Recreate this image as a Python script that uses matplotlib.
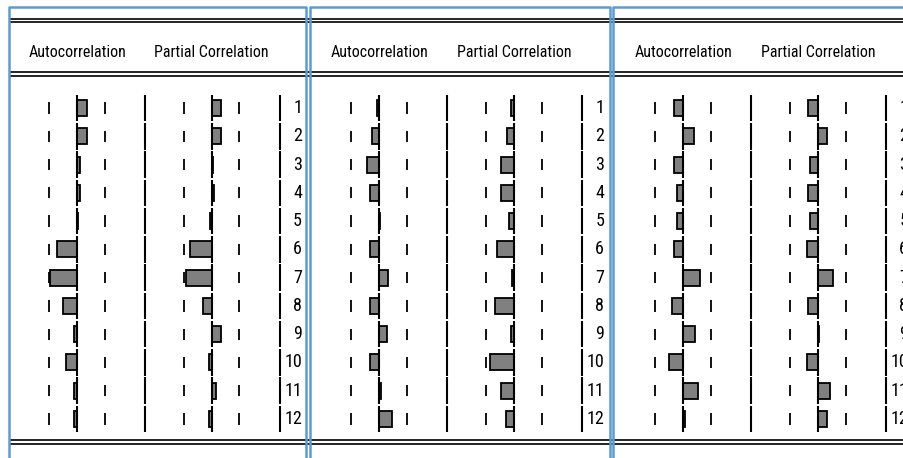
import matplotlib.pyplot as plt
import numpy as np

plt.rcParams['font.family'] = ['Liberation Sans Narrow', 'Roboto Condensed', 'DejaVu Sans']
plt.rcParams['font.stretch'] = 'condensed'

# correlogram values, lags 1..12
lags = np.arange(1, 13)
acf_1 = [0.14, 0.14, 0.05, 0.05, 0.02, -0.29, -0.40, -0.21, -0.04, -0.16, -0.04, -0.04]
pacf_1 = [0.14, 0.14, 0.025, 0.04, -0.025, -0.31, -0.38, -0.12, 0.14, -0.04, 0.07, -0.04]
acf_2 = [-0.04, -0.11, -0.18, -0.14, 0.01, -0.13, 0.13, -0.14, 0.11, -0.14, 0.025, 0.18]
pacf_2 = [-0.035, -0.10, -0.19, -0.19, -0.07, -0.24, -0.025, -0.27, -0.035, -0.35, -0.19, -0.12]
acf_3 = [-0.14, 0.15, -0.14, -0.09, -0.10, -0.14, 0.25, -0.17, 0.17, -0.21, 0.22, 0.03]
pacf_3 = [-0.15, 0.13, -0.11, -0.15, -0.11, -0.16, 0.23, -0.15, 0.02, -0.16, 0.18, 0.14]
bound = 0.41  # dashed confidence limits
headers = ["Autocorrelation", "Partial Correlation"]

panels = [(acf_1, pacf_1), (acf_2, pacf_2), (acf_3, pacf_3)]

W, H = 904, 458
fig = plt.figure(figsize=(W / 100, H / 100), dpi=100)
bg = fig.add_axes([0, 0, 1, 1])
bg.set_xlim(0, W)
bg.set_ylim(H, 0)
bg.axis('off')

# double rules across the table
for y in [19.3, 22.3, 72.2, 76.3, 440.3, 444]:
    bg.plot([10, W], [y, y], color='black', lw=1.2, solid_capstyle='butt')

# blue selection frames
for x0, x1 in [(9, 306), (310, 610), (613, 912)]:
    bg.plot([x0, x0, x1, x1], [470, 7, 7, 470], color='#5b9bd5', lw=1.8, zorder=5)

acf_zero = [77, 379.3, 683.3]
half = 68            # px per unit correlation
row_top, row_bot = 93.9, 433.1
n = len(lags)

for (acf, pacf), z in zip(panels, acf_zero):
    for k, vals in enumerate([acf, pacf]):
        cx = z + k * 134.5
        ax = fig.add_axes([(cx - half) / W, (H - row_bot) / H,
                           2 * half / W, (row_bot - row_top) / H])
        ax.set_xlim(-1, 1)
        ax.set_ylim(12.5, 0.5)
        ax.axis('off')
        ax.barh(lags, vals, height=0.57, color='#808080', edgecolor='black',
                linewidth=1.3, zorder=3)
        ax.vlines(np.zeros(n), lags - 0.47, lags + 0.47, color='black', lw=1.5, zorder=4)
        ax.vlines(np.ones(n), lags - 0.47, lags + 0.47, color='black', lw=1.5, clip_on=False)
        for b in [-bound, bound]:
            ax.vlines(np.full(n, b), lags - 0.2, lags + 0.2,
                      color='black', lw=1.3, zorder=2)
        ax.text(0, -0.98, headers[k], ha='center', va='center', fontsize=11.5,
                clip_on=False)
        if k == 1:
            for lag in lags:
                ax.text(1.33, lag, str(lag), ha='right', va='center',
                        fontsize=13, clip_on=False)

plt.savefig("out.png", dpi=100)
